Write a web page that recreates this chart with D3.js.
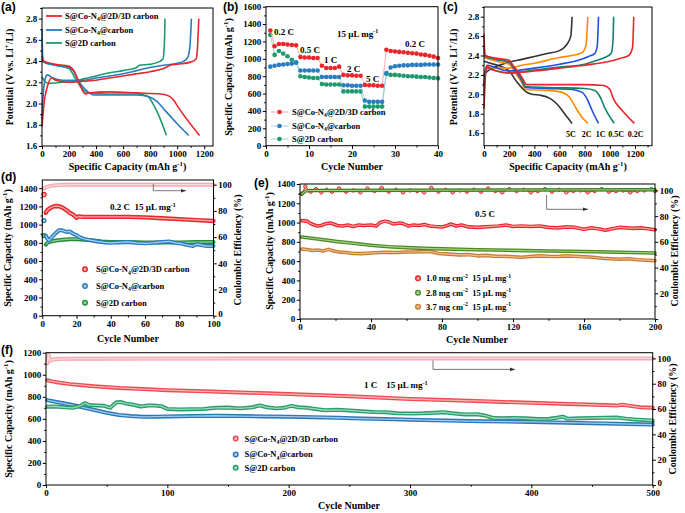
<!DOCTYPE html>
<html>
<head>
<meta charset="utf-8">
<script src="https://cdn.jsdelivr.net/npm/d3@7"></script>
<style>
  body { margin: 0; background: #fff; }
  svg { font-family: "Liberation Serif", "Times New Roman", serif; font-weight: bold; }
  text { white-space: pre; }
</style>
</head>
<body>
<svg id="chart" width="685" height="513"></svg>
<script>
// ################
// data
// ################

// (a) 0.2 C profiles: [capacity, voltage]
var aRedDis = [[0,2.45],[10,2.40],[100,2.37],[200,2.35],[240,2.30],[280,2.18],[320,2.09],[340,2.10],[500,2.11],[700,2.10],[880,2.09],[940,2.07],[975,2.03],[1000,1.98],[1165,1.70]];
var aRedChg = [[0,1.78],[15,2.00],[40,2.16],[70,2.24],[100,2.22],[200,2.20],[300,2.21],[400,2.22],[500,2.24],[600,2.26],[700,2.28],[800,2.30],[900,2.33],[950,2.36],[1000,2.37],[1100,2.39],[1140,2.42],[1150,2.52],[1155,2.65],[1160,2.80]];
var aBlueDis = [[0,2.70],[5,2.45],[15,2.39],[100,2.36],[200,2.34],[230,2.31],[260,2.24],[300,2.16],[350,2.10],[380,2.08],[500,2.08],[700,2.08],[800,2.06],[850,2.02],[900,1.95],[1000,1.81],[1085,1.70]];
var aBlueChg = [[0,1.85],[10,2.10],[25,2.24],[40,2.27],[80,2.24],[150,2.22],[300,2.22],[400,2.24],[500,2.26],[600,2.28],[700,2.31],[800,2.34],[900,2.36],[1000,2.38],[1050,2.40],[1080,2.44],[1095,2.55],[1105,2.80]];
var aGreenDis = [[0,2.42],[10,2.39],[100,2.36],[200,2.33],[240,2.25],[280,2.17],[320,2.11],[340,2.10],[500,2.09],[700,2.09],[780,2.07],[820,2.00],[860,1.90],[920,1.70]];
var aGreenChg = [[0,2.25],[20,2.21],[50,2.19],[150,2.20],[250,2.21],[300,2.23],[400,2.26],[500,2.29],[600,2.31],[700,2.34],[720,2.36],[800,2.37],[860,2.39],[895,2.42],[905,2.55],[910,2.80]];

// (b) rate performance, cycles 1..40
var bCycles = d3.range(1, 41);
var bRed = [1325,1145,1170,1170,1165,1160,1155, 1020,1015,1015,1010,1010, 920,895,895,895,910, 815,810,810,805,805, 700,695,695,690,690, 1105,1090,1085,1080,1075,1070,1065,1060,1050,1045,1035,1025,1010];
var bBlue = [910,920,930,935,940,945,955, 865,865,865,865,865, 790,790,790,790,790, 695,695,690,690,690, 520,505,505,505,505, 835,900,915,920,925,925,930,930,930,935,935,935,935];
var bGreen = [1275,1045,1090,1060,1030,990,960, 800,790,785,780,780, 710,705,705,705,705, 625,625,625,625,625, 450,450,450,450,450, 825,815,815,810,805,800,800,795,790,790,785,780,775];
var bRateLabels = ["0.2 C", "0.5 C", "1 C", "2 C", "5 C", "0.2 C"];

// (c) rate profiles of S@Co-N4@2D/3D carbon
var cRates = ["0.2C", "0.5C", "1C", "2C", "5C"];
var cDis = [
  [[0,2.62],[8,2.40],[100,2.37],[200,2.35],[230,2.30],[300,2.18],[340,2.10],[500,2.10],[800,2.10],[950,2.09],[1000,2.05],[1030,1.95],[1100,1.83],[1195,1.70]],
  [[0,2.50],[8,2.39],[100,2.36],[200,2.33],[240,2.27],[300,2.16],[330,2.08],[500,2.07],[800,2.06],[880,2.04],[920,1.98],[960,1.86],[1035,1.70]],
  [[0,2.40],[100,2.36],[200,2.33],[240,2.26],[300,2.14],[330,2.07],[500,2.06],[700,2.05],[780,2.02],[820,1.95],[860,1.83],[910,1.70]],
  [[0,2.38],[100,2.34],[200,2.31],[240,2.24],[300,2.12],[330,2.05],[500,2.04],[620,2.02],[680,1.97],[730,1.86],[780,1.76],[826,1.70]],
  [[0,2.34],[50,2.32],[150,2.28],[200,2.24],[260,2.13],[330,2.03],[380,2.00],[450,1.99],[520,1.96],[580,1.90],[640,1.80],[700,1.70]]
];
var cChg = [
  [[0,1.85],[10,2.15],[20,2.30],[40,2.27],[100,2.24],[200,2.22],[400,2.24],[600,2.27],[800,2.30],[1000,2.34],[1080,2.37],[1150,2.40],[1180,2.48],[1190,2.80]],
  [[0,2.00],[10,2.22],[30,2.27],[100,2.24],[200,2.22],[400,2.25],[600,2.28],[800,2.31],[900,2.35],[960,2.38],[1010,2.42],[1025,2.55],[1030,2.80]],
  [[0,2.10],[10,2.24],[30,2.30],[100,2.27],[200,2.24],[400,2.27],[600,2.31],[750,2.35],[830,2.39],[880,2.42],[900,2.50],[910,2.80]],
  [[0,2.18],[10,2.25],[30,2.28],[100,2.27],[200,2.27],[300,2.30],[400,2.32],[500,2.35],[600,2.38],[700,2.40],[780,2.43],[810,2.50],[825,2.80]],
  [[0,2.20],[30,2.24],[100,2.29],[200,2.33],[300,2.36],[400,2.39],[500,2.42],[600,2.45],[650,2.50],[690,2.60],[700,2.80]]
];

// (d) 0.2 C cycling: [cycle, value]
var dRed = [[1,1330],[2,1130],[3,1160],[4,1175],[6,1195],[8,1205],[10,1200],[12,1185],[14,1160],[16,1130],[18,1110],[19,1095],[20,1075],[21,1090],[24,1085],[30,1085],[40,1085],[50,1085],[60,1080],[70,1070],[80,1060],[90,1050],[100,1040]];
var dRedCE = [[1,97],[2,98],[4,98.8],[6,99.3],[8,99.6],[12,99.9],[20,100],[100,100]];
var dBlue = [[1,1045],[2,880],[3,845],[4,825],[5,850],[6,870],[8,910],[10,940],[12,935],[14,920],[16,925],[18,900],[20,885],[22,860],[25,840],[28,830],[32,815],[36,805],[40,800],[45,805],[50,810],[55,800],[60,795],[65,800],[70,810],[74,815],[78,800],[82,790],[85,775],[88,765],[90,785],[93,775],[96,765],[100,765]];
var dGreen = [[1,880],[2,780],[3,800],[5,815],[8,825],[12,835],[16,840],[20,840],[25,835],[30,825],[35,815],[40,810],[50,808],[60,805],[70,805],[80,805],[90,808],[100,810]];

// (e) 0.5 C cycling with different loadings
var eRed = [[1,1020],[4,1015],[6,990],[8,975],[10,965],[12,970],[14,985],[17,995],[19,985],[21,970],[24,965],[27,975],[30,960],[33,975],[36,970],[40,975],[43,965],[45,1000],[48,1015],[50,1005],[53,985],[56,995],[58,990],[61,965],[64,975],[67,970],[70,980],[73,965],[76,960],[80,955],[83,970],[85,985],[88,965],[91,975],[95,955],[100,950],[104,955],[108,960],[112,965],[116,975],[120,960],[125,965],[130,960],[135,965],[140,950],[145,945],[150,955],[155,950],[160,930],[164,945],[168,935],[172,920],[176,935],[180,950],[184,945],[188,940],[192,945],[196,935],[200,925]];
var eRedCE = [[1,97.5],[3,103],[6,99],[9,101],[12,98.5],[15,100.5],[18,99],[22,101.5],[26,99],[30,100],[34,98.5],[38,101.5],[42,99.5],[46,102],[50,99],[54,100.5],[58,98.5],[62,100],[66,99.5],[70,98.5],[74,102],[78,99],[82,100.5],[86,98.5],[90,100],[94,99],[98,100.5],[102,99],[106,101.5],[110,99.5],[114,98.5],[118,101],[122,99.5],[126,100.5],[130,98.5],[134,99.5],[138,101],[142,99],[146,100.5],[150,98.5],[154,99.5],[158,100],[162,98.5],[166,99.5],[170,101],[174,99],[178,99.5],[182,100],[186,98.5],[190,99.5],[194,100],[198,101],[200,99.5]];
var eGreen = [[1,850],[10,830],[20,805],[30,785],[40,765],[50,750],[60,740],[70,732],[80,727],[100,718],[120,712],[140,705],[160,700],[180,692],[200,685]];
var eGreenCE = [[1,97],[3,99.5],[6,100],[200,100.5]];
var eOrange = [[1,725],[4,720],[7,710],[10,715],[13,705],[16,722],[19,705],[22,695],[26,690],[30,680],[35,678],[40,685],[45,690],[50,692],[55,690],[60,695],[65,695],[70,700],[74,698],[78,680],[82,675],[86,670],[90,665],[95,668],[100,655],[105,660],[110,650],[115,650],[120,645],[125,640],[130,648],[135,655],[140,650],[145,648],[150,655],[155,650],[160,645],[165,640],[170,630],[175,625],[180,620],[185,625],[190,615],[195,610],[200,605]];

// (f) 1 C long cycling
var fRed = [[1,950],[5,940],[10,930],[20,915],[30,905],[40,895],[60,880],[80,870],[100,860],[130,850],[160,840],[200,825],[250,805],[300,780],[330,770],[360,760],[400,745],[430,735],[460,725],[470,720],[475,728],[480,720],[490,705],[500,700]];
var fRedCE = [[1,96],[2,103],[3,98],[5,99],[10,99.5],[20,99.8],[500,100]];
var fBlue = [[1,770],[10,750],[20,730],[30,705],[40,680],[50,655],[60,635],[70,625],[80,618],[90,620],[100,622],[120,625],[140,628],[160,625],[180,622],[200,620],[220,615],[240,610],[260,603],[280,598],[300,592],[320,587],[340,582],[360,578],[380,575],[400,572],[420,568],[440,563],[460,558],[480,553],[500,548]];
var fGreen = [[1,710],[8,712],[15,705],[22,700],[28,715],[32,742],[36,725],[42,722],[48,718],[53,700],[55,722],[58,750],[62,752],[66,738],[72,728],[78,712],[84,722],[90,720],[95,715],[100,690],[110,685],[120,688],[130,690],[140,700],[150,702],[160,695],[170,705],[176,722],[182,705],[190,695],[196,700],[202,718],[208,705],[215,700],[222,690],[230,678],[240,682],[250,676],[260,668],[270,662],[280,660],[290,650],[300,648],[310,650],[320,655],[328,660],[335,650],[345,640],[355,642],[362,630],[368,610],[375,605],[385,608],[395,605],[405,598],[415,600],[422,612],[426,620],[430,600],[440,605],[450,608],[460,610],[470,612],[478,602],[485,595],[492,590],[500,585]];

// tick labels
var capTicks = [0,200,400,600,800,1000,1200];
var potTicks = [1.6,1.8,2.0,2.2,2.4,2.6,2.8];
var bXTicks = [0,10,20,30,40];
var bYTicks = [0,200,400,600,800,1000,1200,1400,1600];
var dXTicks = [0,20,40,60,80,100];
var dYTicks = [0,200,400,600,800,1000,1200,1400];
var ceTicks = [0,20,40,60,80,100];
var eXTicks = [0,40,80,120,160,200];
var fXTicks = [0,100,200,300,400,500];
var fYTicks = [0,200,400,600,800,1000,1200];

// ################
// helpers
// ################
var FONT = '"Liberation Serif", "Times New Roman", serif';
var svg = d3.select("#chart");

function panel(P, xd, yd, yd2) {
  var g = svg.append("g");
  var o = { g: g, P: P };
  o.x = d3.scaleLinear().domain(xd).range([P.l, P.r]);
  o.y = d3.scaleLinear().domain(yd).range([P.b, P.t]);
  if (yd2) o.y2 = d3.scaleLinear().domain(yd2).range([P.b, P.t]);
  return o;
}

function frame(o) {
  o.g.append("rect").attr("x", o.P.l).attr("y", o.P.t)
    .attr("width", o.P.r - o.P.l).attr("height", o.P.b - o.P.t)
    .attr("fill", "none").attr("stroke", "#000").attr("stroke-width", 1);
}

// major ticks with labels, plus minor ticks halfway between
function axis(g, orient, scale, ticks, fmt, pos) {
  var minors = [];
  for (var i = 0; i < ticks.length - 1; i++) minors.push((ticks[i] + ticks[i + 1]) / 2);
  var step = ticks[1] - ticks[0], dom = scale.domain();
  var extra = ticks[ticks.length - 1] + step / 2;
  if (extra <= dom[1]) minors.push(extra);
  var mk = { left: d3.axisLeft, right: d3.axisRight, bottom: d3.axisBottom }[orient];
  var tr = orient === "bottom" ? "translate(0," + pos + ")" : "translate(" + pos + ",0)";
  g.append("g").attr("transform", tr)
    .call(mk(scale).tickValues(minors).tickSize(1.8).tickFormat(""))
    .call(function(s) { s.select(".domain").remove(); });
  var ax = g.append("g").attr("transform", tr)
    .call(mk(scale).tickValues(ticks).tickSize(3.2).tickPadding(1.5).tickFormat(fmt))
    .attr("font-family", FONT).attr("font-size", 9).attr("font-weight", "bold")
    .call(function(s) { s.select(".domain").remove(); });
  // right-axis zero sits in the corner next to the last x label: lift it a touch
  if (orient === "right") ax.selectAll(".tick text").filter(function(d) { return d === 0; }).attr("dy", "0.05em");
  return ax;
}

// text with sub/superscripts: parts = [[str, "sup"|"sub"|null], ...]
function rich(g, x, y, parts, size, anchor, rot) {
  var t = g.append("text").attr("font-size", size).attr("text-anchor", anchor || "start");
  if (rot) t.attr("transform", "translate(" + x + "," + y + ") rotate(-90)");
  else t.attr("x", x).attr("y", y);
  var shift = 0;
  parts.forEach(function(p) {
    var s = p[1] === "sup" ? -size * 0.38 : (p[1] === "sub" ? size * 0.28 : 0);
    t.append("tspan").attr("dy", s - shift).attr("font-size", p[1] ? size * 0.68 : size).text(p[0]);
    shift = s;
  });
  return t;
}

function letter(x, y, s) {
  svg.append("text").attr("x", x).attr("y", y).attr("font-family", '"Liberation Sans", Arial, sans-serif')
    .attr("font-size", 12).attr("font-weight", "bold").text(s);
}

function curve(o, pts, color, w) {
  var line = d3.line().x(function(d) { return o.x(d[0]); }).y(function(d) { return o.y(d[1]); }).curve(d3.curveMonotoneX);
  o.g.append("path").attr("d", line(pts)).attr("fill", "none").attr("stroke", color).attr("stroke-width", w || 1.5);
}

// dense marker series drawn as a band with a lighter core (hollow circles)
function band(o, ys, pts, color, core, w, from) {
  from = from || 0;
  var line = d3.line().x(function(d) { return o.x(d[0]); }).y(function(d) { return ys(d[1]); });
  var rest = pts.slice(from);
  o.g.append("path").attr("d", line(rest)).attr("fill", "none").attr("stroke", color)
    .attr("stroke-width", w).attr("stroke-linejoin", "round").attr("stroke-linecap", "round");
  o.g.append("path").attr("d", line(rest)).attr("fill", "none").attr("stroke", core)
    .attr("stroke-width", w * 0.32).attr("stroke-linejoin", "round");
  pts.slice(0, from).forEach(function(d) {
    o.g.append("circle").attr("cx", o.x(d[0])).attr("cy", ys(d[1])).attr("r", w / 2)
      .attr("fill", core).attr("stroke", color).attr("stroke-width", 1.2);
  });
}

function dotMark(g, x, y, color, core) {
  g.append("circle").attr("cx", x).attr("cy", y).attr("r", 2.3).attr("fill", core).attr("stroke", color).attr("stroke-width", 1.4);
}

function arrow(g, pts) {
  g.append("path").attr("d", d3.line()(pts)).attr("fill", "none").attr("stroke", "#555").attr("stroke-width", 0.8);
  var e = pts[pts.length - 1];
  g.append("path").attr("d", "M" + e[0] + "," + e[1] + "l-5,-1.8l0,3.6z").attr("fill", "#333");
}

var capLabel = [["Specific Capacity (mAh g", null], ["-1", "sup"], [")", null]];
var potLabel = [["Potential (V vs. Li", null], ["+", "sup"], ["/Li)", null]];
var ceLabel = [["Coulombic Efficiency (%)", null]];
var nm1 = [["S@Co-N", null], ["4", "sub"], ["@2D/3D carbon", null]];
var nm2 = [["S@Co-N", null], ["4", "sub"], ["@carbon", null]];
var nm3 = [["S@2D carbon", null]];
var f1 = d3.format(".1f");

var RED = "#e8262b", BLUE = "#2a7cc0", GREEN = "#1f9a6c";

// ################
// (a)
// ################
var A = panel({ l: 42, r: 213, t: 8, b: 146 }, [0, 1265], [1.6, 2.9]);
[[aGreenDis, GREEN], [aGreenChg, GREEN], [aBlueDis, BLUE], [aBlueChg, BLUE], [aRedDis, RED], [aRedChg, RED]]
  .forEach(function(s) { curve(A, s[0], s[1], 1.6); });
frame(A);
axis(A.g, "bottom", A.x, capTicks, d3.format("d"), A.P.b);
axis(A.g, "left", A.y, potTicks, f1, A.P.l);
[[nm1, RED, 16], [nm2, BLUE, 30], [nm3, GREEN, 43]].forEach(function(l) {
  A.g.append("line").attr("x1", 46).attr("x2", 62).attr("y1", l[2]).attr("y2", l[2]).attr("stroke", l[1]).attr("stroke-width", 1.8);
  rich(A.g, 65, l[2] + 3, l[0], 8.5);
});
rich(A.g, 127.5, 169.5, capLabel, 10, "middle");
rich(A.g, 13, 77, potLabel, 10, "middle", true);
letter(1, 11, "(a)");

// ################
// (b)
// ################
var B = panel({ l: 266, r: 438, t: 6.7, b: 145.7 }, [0, 40], [0, 1600]);
[[bGreen, GREEN, "#9ad3bd"], [bBlue, BLUE, "#9fc5e6"], [bRed, RED, "#f5a3a5"]].forEach(function(s) {
  var pts = bCycles.map(function(c, i) { return [c, s[0][i]]; });
  B.g.append("path").attr("d", d3.line().x(function(d) { return B.x(d[0]); }).y(function(d) { return B.y(d[1]); })(pts))
    .attr("fill", "none").attr("stroke", s[2]).attr("stroke-width", 0.9);
  B.g.selectAll(null).data(pts).enter().append("circle")
    .attr("cx", function(d) { return B.x(d[0]); }).attr("cy", function(d) { return B.y(d[1]); })
    .attr("r", 2.3).attr("fill", s[1]);
});
frame(B);
axis(B.g, "bottom", B.x, bXTicks, d3.format("d"), B.P.b);
axis(B.g, "left", B.y, bYTicks, d3.format("d"), B.P.l);
[[nm1, RED, "#f5a3a5", 112], [nm2, BLUE, "#9fc5e6", 126], [nm3, GREEN, "#9ad3bd", 139]].forEach(function(l) {
  B.g.append("line").attr("x1", 271).attr("x2", 288).attr("y1", l[3]).attr("y2", l[3]).attr("stroke", l[2]).attr("stroke-width", 0.9);
  B.g.append("circle").attr("cx", 279.5).attr("cy", l[3]).attr("r", 2.3).attr("fill", l[1]);
  rich(B.g, 292, l[3] + 3, l[0], 8.5);
});
var bLabPos = [[274, 35], [300, 53], [324, 63], [347, 71.5], [366, 81.5], [405, 46.5]];
bRateLabels.forEach(function(t, i) {
  B.g.append("text").attr("x", bLabPos[i][0]).attr("y", bLabPos[i][1]).attr("font-size", 9).text(t);
});
rich(B.g, 337, 36.5, [["15 \u00b5L mg", null], ["-1", "sup"]], 9);
rich(B.g, 352, 169.5, [["Cycle Number", null]], 10, "middle");
rich(B.g, 232, 77, capLabel, 10, "middle", true);
letter(223, 11, "(b)");

// ################
// (c)
// ################
var C = panel({ l: 484, r: 652, t: 7, b: 145.7 }, [0, 1335], [1.47, 2.9]);
var cColors = [RED, "#13806f", "#1f4fe6", "#ff8a00", "#333333"];
for (var i = cRates.length - 1; i >= 0; i--) {
  curve(C, cDis[i], cColors[i], 1.6);
  curve(C, cChg[i], cColors[i], 1.6);
}
frame(C);
axis(C.g, "bottom", C.x, capTicks, d3.format("d"), C.P.b);
axis(C.g, "left", C.y, potTicks, f1, C.P.l);
var cLabX = [627.7, 608.3, 595.7, 581.7, 566];
cRates.forEach(function(t, i) {
  C.g.append("text").attr("x", cLabX[i]).attr("y", 136.5).attr("font-size", 8).text(t);
});
rich(C.g, 568, 169.5, capLabel, 10, "middle");
rich(C.g, 456.5, 77, potLabel, 10, "middle", true);
letter(443, 11, "(c)");

// ################
// (d)
// ################
var D = panel({ l: 42.3, r: 213.5, t: 180, b: 315.7 }, [0, 100], [0, 1490], [0, 103.6]);
band(D, D.y2, dRedCE, "#f6a9b0", "#fcdde0", 4);
band(D, D.y, dGreen, "#238b3a", "#8fd29a", 4, 1);
band(D, D.y, dBlue, BLUE, "#a9d0ef", 4, 1);
band(D, D.y, dRed, RED, "#f7a3a3", 4.4, 1);
frame(D);
axis(D.g, "bottom", D.x, dXTicks, d3.format("d"), D.P.b);
axis(D.g, "left", D.y, dYTicks, d3.format("d"), D.P.l);
axis(D.g, "right", D.y2, ceTicks, d3.format("d"), D.P.r);
arrow(D.g, [[153.3, 184], [153.3, 190.7], [186, 190.7]]);
rich(D.g, 110, 210, [["0.2 C  15 \u00b5L mg", null], ["-1", "sup"]], 9);
[[nm1, RED, "#f7a3a3", 269.3], [nm2, BLUE, "#a9d0ef", 286], [nm3, "#238b3a", "#8fd29a", 302.7]].forEach(function(l) {
  dotMark(D.g, 85, l[3], l[1], l[2]);
  rich(D.g, 96, l[3] + 3, l[0], 8.5);
});
rich(D.g, 128, 342, [["Cycle Number", null]], 10, "middle");
rich(D.g, 11, 248, capLabel, 10, "middle", true);
rich(D.g, 241, 250, ceLabel, 10, "middle", true);
letter(1, 181, "(d)");

// ################
// (e)
// ################
var E = panel({ l: 300, r: 655, t: 184, b: 319 }, [0, 200], [0, 1400], [0, 105]);
var OLIVE = "#4a8a22", ORANGE = "#c87a30";
band(E, E.y, eOrange, ORANGE, "#eebf8e", 3.6);
band(E, E.y, eGreen, OLIVE, "#a9cf8a", 3.6);
band(E, E.y, eRed, RED, "#f7a3a3", 3.6);
var eLine = d3.line().x(function(d) { return E.x(d[0]); }).y(function(d) { return E.y2(d[1]); });
E.g.append("path").attr("d", eLine(eRedCE)).attr("fill", "none").attr("stroke", RED).attr("stroke-width", 1);
E.g.selectAll(null).data(eRedCE).enter().append("circle")
  .attr("cx", function(d) { return E.x(d[0]); }).attr("cy", function(d) { return E.y2(d[1]); })
  .attr("r", 1.7).attr("fill", "#f7a3a3").attr("stroke", RED).attr("stroke-width", 1);
band(E, E.y2, eGreenCE, "#3d7f1c", "#a9cf8a", 3.4);
frame(E);
axis(E.g, "bottom", E.x, eXTicks, d3.format("d"), E.P.b);
axis(E.g, "left", E.y, dYTicks, d3.format("d"), E.P.l);
axis(E.g, "right", E.y2, ceTicks, function(v) { return v === 0 ? "" : v; }, E.P.r);
arrow(E.g, [[546.6, 195], [546.6, 209.3], [588, 209.3]]);
E.g.append("text").attr("x", 485).attr("y", 217).attr("font-size", 9).attr("text-anchor", "middle").text("0.5 C");
[["1.0", RED, "#f7a3a3", 278.3], ["2.8", OLIVE, "#a9cf8a", 292.7], ["3.7", ORANGE, "#eebf8e", 306.7]].forEach(function(l) {
  dotMark(E.g, 418, l[3], l[1], l[2]);
  rich(E.g, 426, l[3] + 3, [[l[0] + " mg cm", null], ["-2", "sup"], ["  15 \u00b5L mg", null], ["-1", "sup"]], 8.5);
});
rich(E.g, 477, 343, [["Cycle Number", null]], 10, "middle");
rich(E.g, 273, 251, capLabel, 10, "middle", true);
rich(E.g, 678, 251, ceLabel, 10, "middle", true);
letter(254, 187, "(e)");

// ################
// (f)
// ################
var F = panel({ l: 46, r: 652.7, t: 352.7, b: 485 }, [0, 500], [0, 1200], [0, 104.5]);
var FRED = "#ec4b50", FBLUE = "#2a76b8", FGREEN = "#2a9d6a";
band(F, F.y2, fRedCE, "#f6a9b0", "#fcdde0", 4);
band(F, F.y, fBlue, FBLUE, "#a4c9ea", 4);
band(F, F.y, fGreen, FGREEN, "#9dd9bd", 4);
band(F, F.y, fRed, FRED, "#f9b3b5", 4);
frame(F);
axis(F.g, "bottom", F.x, fXTicks, d3.format("d"), F.P.b);
axis(F.g, "left", F.y, fYTicks, d3.format("d"), F.P.l);
axis(F.g, "right", F.y2, ceTicks, d3.format("d"), F.P.r);
arrow(F.g, [[433, 360.4], [433, 369.4], [515, 369.4]]);
rich(F.g, 364, 388, [["1 C    15 \u00b5L mg", null], ["-1", "sup"]], 9);
[[nm1, FRED, "#f9b3b5", 438.6], [nm2, FBLUE, "#a4c9ea", 454.4], [nm3, FGREEN, "#9dd9bd", 467.8]].forEach(function(l) {
  dotMark(F.g, 235.7, l[3], l[1], l[2]);
  rich(F.g, 244.5, l[3] + 3, l[0], 8.5);
});
rich(F.g, 349, 508.5, [["Cycle Number", null]], 10, "middle");
rich(F.g, 12, 419, capLabel, 10, "middle", true);
rich(F.g, 676, 419, ceLabel, 10, "middle", true);
letter(1, 354, "(f)");
</script>
</body>
</html>
